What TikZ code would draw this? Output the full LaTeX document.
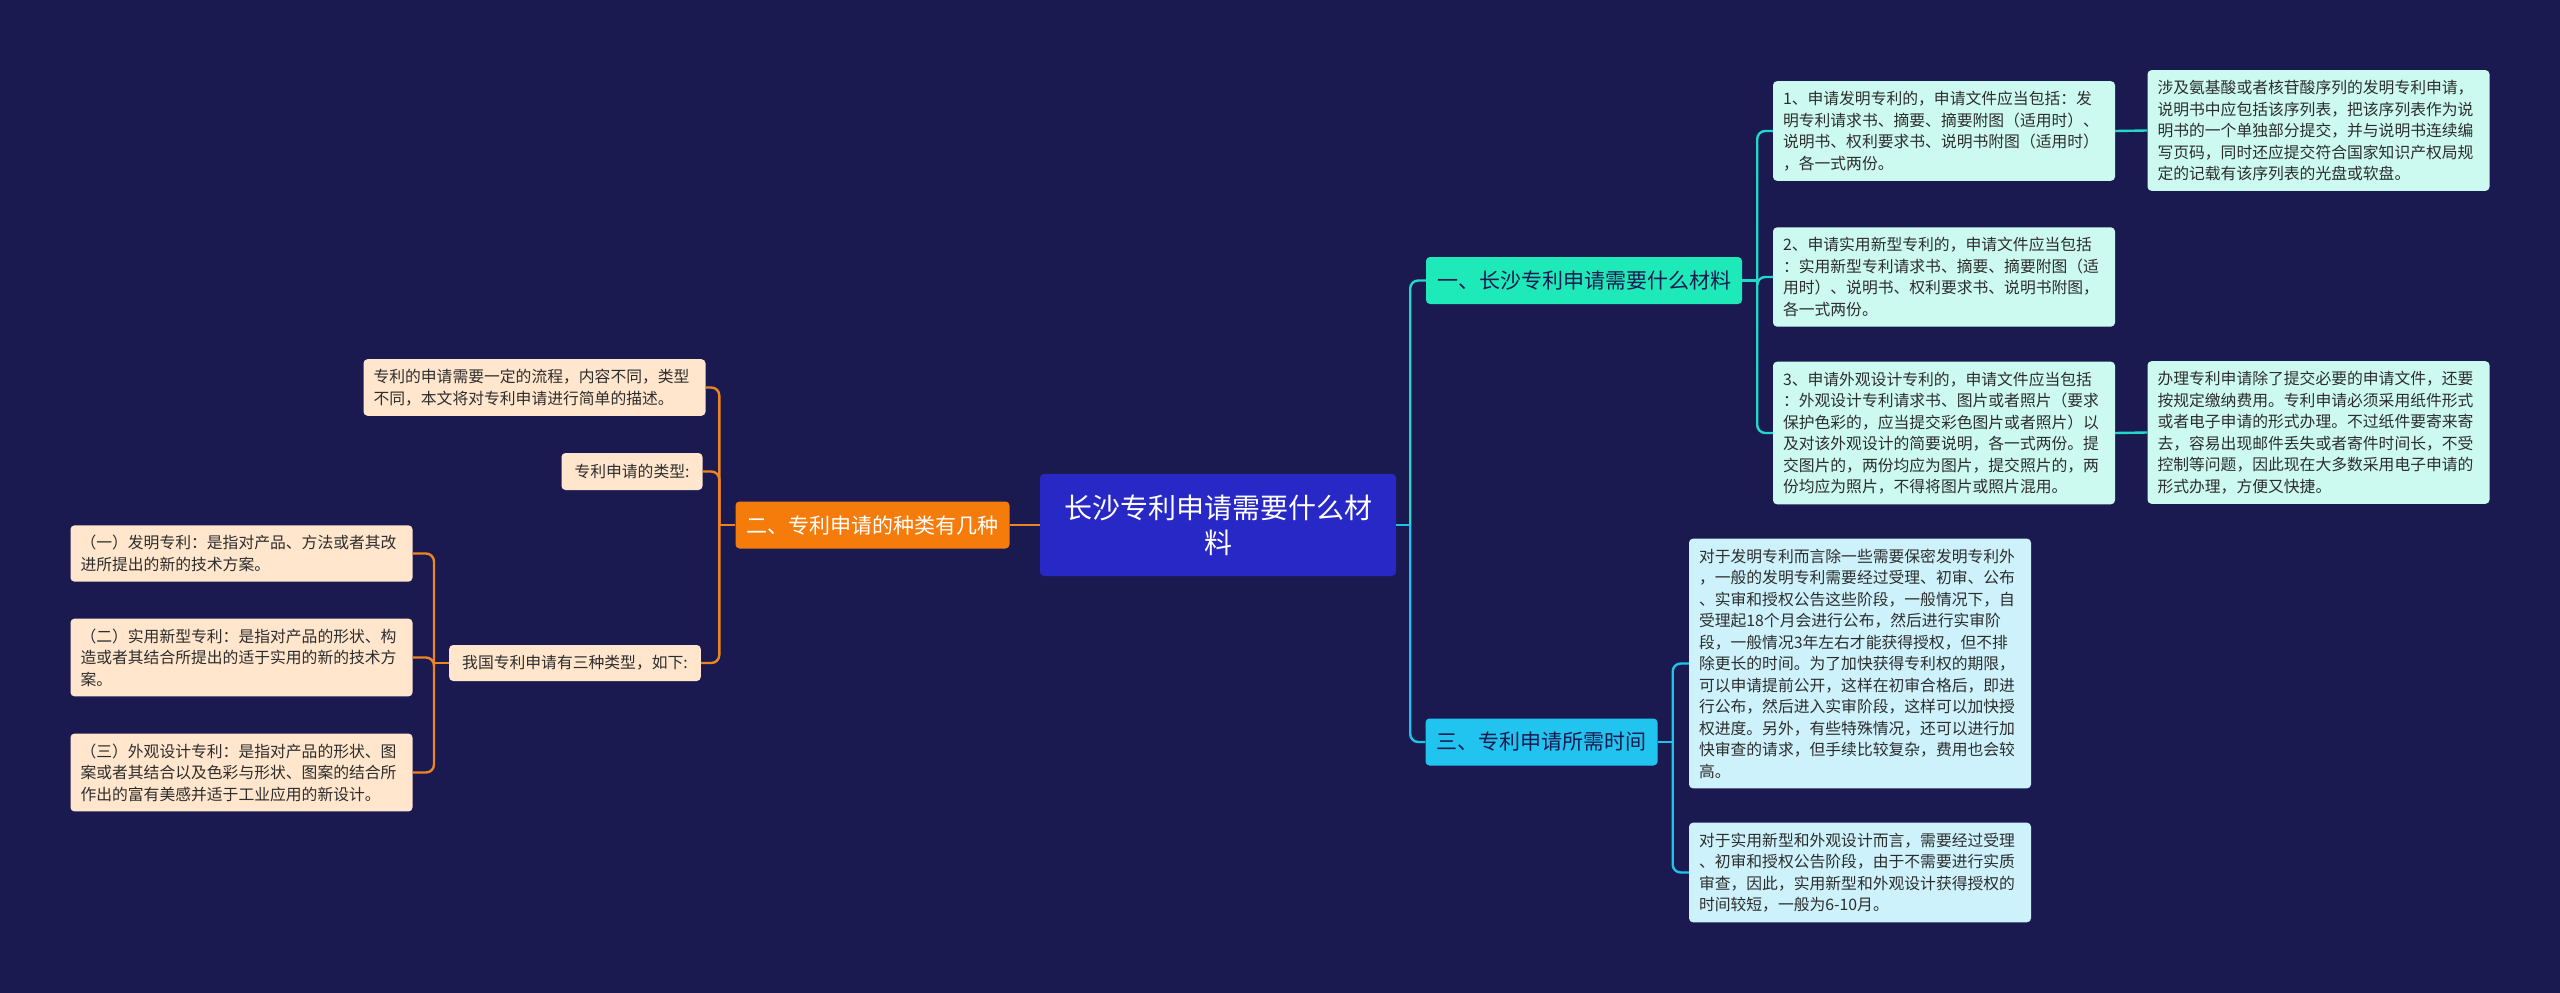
\documentclass[tikz,border=0pt]{standalone}
\usepackage{fontspec}
\setmainfont{Noto Sans CJK SC}
\usepackage{tikz}
\definecolor{bgnavy}{HTML}{1B1A50}
\definecolor{rootblue}{HTML}{2828C6}
\definecolor{mintfill}{HTML}{1EE9B8}
\definecolor{mintleaf}{HTML}{CDFAF0}
\definecolor{mintline}{HTML}{22D8C8}
\definecolor{cyanfill}{HTML}{20C4EE}
\definecolor{cyanleaf}{HTML}{CDF2FB}
\definecolor{cyanline}{HTML}{1EC3EA}
\definecolor{orangefill}{HTML}{F57C0A}
\definecolor{peachleaf}{HTML}{FFE6CD}
\definecolor{orangeline}{HTML}{EC8424}
\definecolor{leaftext}{HTML}{2D2D2D}

\begin{document}
\begin{tikzpicture}[x=1pt,y=-1pt,
  rootbox/.style={fill=rootblue,text=white,rounded corners=4pt,align=center,
    font=\fontsize{28}{35}\selectfont,minimum width=356pt,minimum height=102pt},
  topic/.style={rounded corners=4pt,font=\fontsize{21}{26}\selectfont,
    inner xsep=11pt,minimum height=47pt},
  leaf/.style={rounded corners=4pt,text=leaftext,align=left,text width=322pt,
    inner xsep=10pt,inner ysep=10pt,font=\fontsize{15.8}{21.5}\selectfont},
  tag/.style={rounded corners=4pt,text=leaftext,inner xsep=13pt,
    font=\fontsize{15.8}{21.5}\selectfont,minimum height=36pt},
  link/.style={line width=2.4pt,rounded corners=8pt}]
  \fill[bgnavy] (0,0) rectangle (2560,993);
  \useasboundingbox (0,0) rectangle (2560,993);

  \node[rootbox] (root) at (1218,525) {长沙专利申请需要什么材\\料};

  % right: materials and time
  \node[topic,fill=mintfill,text=bgnavy] (mat) at (1584,280.5) {一、长沙专利申请需要什么材料};
  \node[topic,fill=cyanfill,text=bgnavy] (tim) at (1541.5,742) {三、专利申请所需时间};
  \node[leaf,fill=mintleaf] (inv) at (1944,131) {1、申请发明专利的，申请文件应当包括：发\\明专利请求书、摘要、摘要附图（适用时）、\\说明书、权利要求书、说明书附图（适用时）\\，各一式两份。};
  \node[leaf,fill=mintleaf] (uti) at (1944,277) {2、申请实用新型专利的，申请文件应当包括\\：实用新型专利请求书、摘要、摘要附图（适\\用时）、说明书、权利要求书、说明书附图，\\各一式两份。};
  \node[leaf,fill=mintleaf] (des) at (1944,433) {3、申请外观设计专利的，申请文件应当包括\\：外观设计专利请求书、图片或者照片（要求\\保护色彩的，应当提交彩色图片或者照片）以\\及对该外观设计的简要说明，各一式两份。提\\交图片的，两份均应为图片，提交照片的，两\\份均应为照片，不得将图片或照片混用。};
  \node[leaf,fill=mintleaf] (seq) at (2318.5,130.5) {涉及氨基酸或者核苷酸序列的发明专利申请，\\说明书中应包括该序列表，把该序列表作为说\\明书的一个单独部分提交，并与说明书连续编\\写页码，同时还应提交符合国家知识产权局规\\定的记载有该序列表的光盘或软盘。};
  \node[leaf,fill=mintleaf] (fee) at (2318.5,432.5) {办理专利申请除了提交必要的申请文件，还要\\按规定缴纳费用。专利申请必须采用纸件形式\\或者电子申请的形式办理。不过纸件要寄来寄\\去，容易出现邮件丢失或者寄件时间长，不受\\控制等问题，因此现在大多数采用电子申请的\\形式办理，方便又快捷。};
  \node[leaf,fill=cyanleaf] (tinv) at (1860,663.5) {对于发明专利而言除一些需要保密发明专利外\\，一般的发明专利需要经过受理、初审、公布\\、实审和授权公告这些阶段，一般情况下，自\\受理起18个月会进行公布，然后进行实审阶\\段，一般情况3年左右才能获得授权，但不排\\除更长的时间。为了加快获得专利权的期限，\\可以申请提前公开，这样在初审合格后，即进\\行公布，然后进入实审阶段，这样可以加快授\\权进度。另外，有些特殊情况，还可以进行加\\快审查的请求，但手续比较复杂，费用也会较\\高。};
  \node[leaf,fill=cyanleaf] (tuti) at (1860,872.5) {对于实用新型和外观设计而言，需要经过受理\\、初审和授权公告阶段，由于不需要进行实质\\审查，因此，实用新型和外观设计获得授权的\\时间较短，一般为6-10月。};

  % left: kinds
  \node[topic,fill=orangefill,text=white] (kin) at (872.5,525) {二、专利申请的种类有几种};
  \node[leaf,fill=peachleaf] (intro) at (534.5,387.5) {专利的申请需要一定的流程，内容不同，类型\\不同，本文将对专利申请进行简单的描述。};
  \node[tag,fill=peachleaf,minimum height=37pt] (typ) at (632,471.5) {专利申请的类型:};
  \node[tag,fill=peachleaf] (three) at (575,663) {我国专利申请有三种类型，如下:};
  \node[leaf,fill=peachleaf] (k1) at (241.5,553.5) {（一）发明专利：是指对产品、方法或者其改\\进所提出的新的技术方案。};
  \node[leaf,fill=peachleaf] (k2) at (241.5,657.5) {（二）实用新型专利：是指对产品的形状、构\\造或者其结合所提出的适于实用的新的技术方\\案。};
  \node[leaf,fill=peachleaf] (k3) at (241.5,772.5) {（三）外观设计专利：是指对产品的形状、图\\案或者其结合以及色彩与形状、图案的结合所\\作出的富有美感并适于工业应用的新设计。};

  % bus points
  \path (root.east) ++(14,0) coordinate (rbus);
  \path (mat.east) ++(15,0) coordinate (mbus);
  \path (tim.east) ++(15,0) coordinate (tbus);
  \path (kin.west) ++(-16,0) coordinate (kbus);
  \path (three.west) ++(-15,0) coordinate (hbus);

  \draw[link,cyanline] (root.east) -- (rbus);
  \draw[link,mintline] (rbus) |- (mat.west);
  \draw[link,cyanline] (rbus) |- (tim.west);
  \draw[link,mintline] (mat.east) -- (mbus);
  \foreach \n in {inv,uti,des} \draw[link,mintline] (mbus) |- (\n.west);
  \draw[link,mintline] (inv.east) -- (seq.west);
  \draw[link,mintline] (des.east) -- (fee.west);
  \draw[link,cyanline] (tim.east) -- (tbus);
  \foreach \n in {tinv,tuti} \draw[link,cyanline] (tbus) |- (\n.west);
  \draw[link,orangeline] (root.west) -- (kin.east);
  \draw[link,orangeline] (kin.west) -- (kbus);
  \foreach \n in {intro,typ,three} \draw[link,orangeline] (kbus) |- (\n.east);
  \draw[link,orangeline] (three.west) -- (hbus);
  \foreach \n in {k1,k2,k3} \draw[link,orangeline] (hbus) |- (\n.east);
\end{tikzpicture}
\end{document}
